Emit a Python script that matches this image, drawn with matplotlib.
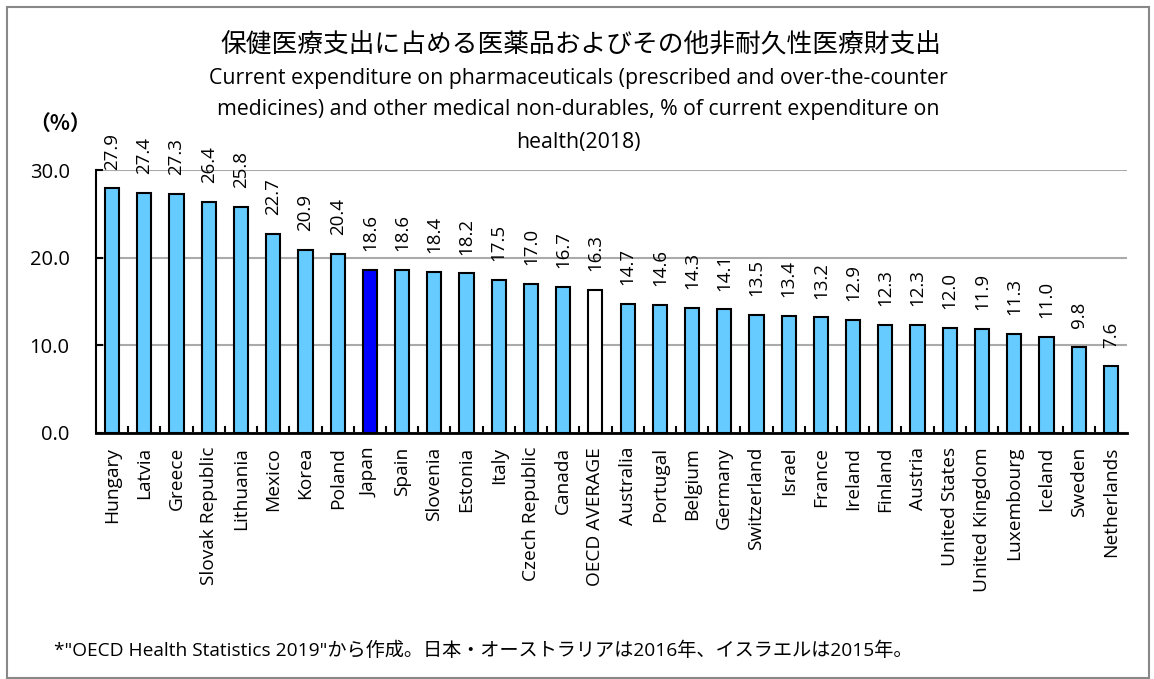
import matplotlib.pyplot as plt
from matplotlib.patches import Rectangle

plt.rcParams['font.family'] = ['Open Sans', 'Noto Sans CJK JP', 'DejaVu Sans']

countries = ['Hungary', 'Latvia', 'Greece', 'Slovak Republic', 'Lithuania', 'Mexico',
             'Korea', 'Poland', 'Japan', 'Spain', 'Slovenia', 'Estonia', 'Italy',
             'Czech Republic', 'Canada', 'OECD AVERAGE', 'Australia', 'Portugal',
             'Belgium', 'Germany', 'Switzerland', 'Israel', 'France', 'Ireland',
             'Finland', 'Austria', 'United States', 'United Kingdom', 'Luxembourg',
             'Iceland', 'Sweden', 'Netherlands']
values = [27.9, 27.4, 27.3, 26.4, 25.8, 22.7, 20.9, 20.4, 18.6, 18.6, 18.4, 18.2, 17.5,
          17.0, 16.7, 16.3, 14.7, 14.6, 14.3, 14.1, 13.5, 13.4, 13.2, 12.9, 12.3, 12.3,
          12.0, 11.9, 11.3, 11.0, 9.8, 7.6]

colors = []
for c in countries:
    if c == 'Japan':
        colors.append('#0000FF')
    elif c == 'OECD AVERAGE':
        colors.append('white')
    else:
        colors.append('#66CCFF')

fig = plt.figure(figsize=(11.54, 6.79), dpi=100)
ax = fig.add_axes([0.0832, 0.3623, 0.8934, 0.3873])

x = range(len(countries))
ax.bar(x, values, width=0.44, color=colors, edgecolor='black', linewidth=1.5, zorder=3)

for i, v in enumerate(values):
    ax.annotate('%.1f' % v, (i, v), xytext=(0, 13.5), textcoords='offset points',
                rotation=90, ha='center', va='bottom', fontsize=13.5)

ax.set_xlim(-0.5, len(countries) - 0.5)
ax.set_ylim(0, 30)
ax.set_yticks([0, 10, 20, 30])
ax.set_yticklabels(['0.0', '10.0', '20.0', '30.0'], fontsize=14.5)
ax.yaxis.grid(True, color='#AAAAAA', linewidth=1.5, zorder=0)
ax.set_xticks(list(x))
ax.set_xticklabels(countries, rotation=90, fontsize=13.8)
ax.set_xticks([i + 0.5 for i in range(len(countries) - 1)], minor=True)
ax.tick_params(axis='x', which='major', length=0, pad=10)
ax.tick_params(axis='x', which='minor', direction='in', length=5, width=1.5)
ax.tick_params(axis='y', direction='in', length=5, width=1.5, pad=19)
ax.spines['top'].set_visible(False)
ax.spines['right'].set_visible(False)
ax.spines['left'].set_linewidth(1.5)
ax.spines['bottom'].set_linewidth(2)

fig.text(0.503, 0.933, '保健医療支出に占める医薬品およびその他非耐久性医療財支出',
         ha='center', va='center', fontsize=18.5, family=['Noto Sans CJK JP'])
fig.text(0.501, 0.885, 'Current expenditure on pharmaceuticals (prescribed and over-the-counter',
         ha='center', va='center', fontsize=15.3)
fig.text(0.501, 0.839, 'medicines) and other medical non-durables, % of current expenditure on',
         ha='center', va='center', fontsize=15.3)
fig.text(0.501, 0.790, 'health(2018)', ha='center', va='center', fontsize=15.3)
fig.text(0.052, 0.818, '（%）', ha='center', va='center', fontsize=15,
         fontweight='bold', family=['Noto Sans CJK JP'])
fig.text(0.047, 0.041, '*"OECD Health Statistics 2019"から作成。日本・オーストラリアは2016年、イスラエルは2015年。',
         ha='left', va='center', fontsize=13.8)

fig.patches.append(Rectangle((0.006, 0.002), 0.990, 0.988, transform=fig.transFigure,
                             fill=False, edgecolor='#888888', linewidth=1.5))

fig.savefig('out.png', dpi=100)
